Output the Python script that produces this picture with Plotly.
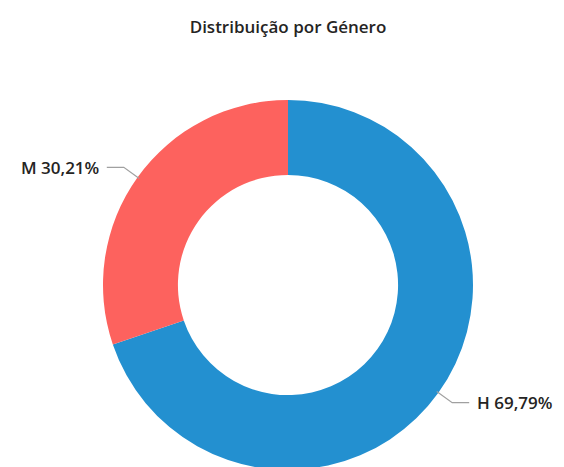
import math
import plotly.graph_objects as go

# Data
categories = ["H", "M"]
values = [69.79, 30.21]
colors = ["#2390D0", "#FD625E"]
title_text = "Distribuição por Género"

W, H = 564, 467
OFF = 8  # page body margin
dom_x = [0.1684, 0.8245]
dom_y = [0.0107, 0.803]
hole = 0.595

fig = go.Figure()
fig.add_trace(go.Pie(
    labels=categories, values=values, sort=False, direction="clockwise",
    rotation=0, hole=hole, textinfo="none", hoverinfo="label+percent",
    marker=dict(colors=colors, line=dict(width=0)),
    domain=dict(x=dom_x, y=dom_y), showlegend=False,
))

# geometry in figure pixels
cx = W * (dom_x[0] + dom_x[1]) / 2
cy = H - H * (dom_y[0] + dom_y[1]) / 2
r = min(W * (dom_x[1] - dom_x[0]), H * (dom_y[1] - dom_y[0])) / 2

def to_paper(px, py):
    return px / W, 1 - py / H

total = sum(values)
cum = 0
shapes = []
annotations = []
for cat, v in zip(categories, values):
    mid = (cum + v / 2) / total * 2 * math.pi
    cum += v
    ux, uy = math.sin(mid), -math.cos(mid)  # clockwise from top
    p0 = (cx + (r - 2) * ux, cy + (r - 2) * uy)
    p1 = (p0[0] + 19 * ux, p0[1] + 19 * uy)
    side = 1 if ux > 0 else -1
    p2 = (p1[0] + 17 * side, p1[1])
    pts = [to_paper(*p) for p in (p0, p1, p2)]
    path = "M {} {} L {} {} L {} {}".format(pts[0][0], pts[0][1], pts[1][0], pts[1][1], pts[2][0], pts[2][1])
    shapes.append(dict(type="path", path=path, xref="paper", yref="paper",
                       line=dict(color="#A0A0A0", width=1.2)))
    lx, ly = to_paper(p2[0] + 6 * side, p2[1])
    annotations.append(dict(
        x=lx, y=ly, xref="paper", yref="paper", showarrow=False,
        text="{} {}%".format(cat, f"{v:.2f}".replace(".", ",")),
        xanchor="left" if side > 0 else "right", yanchor="middle",
        font=dict(family="Open Sans", size=17, color="#252423", weight=600),
    ))

fig.update_layout(
    width=W, height=H,
    margin=dict(l=0, r=0, t=0, b=0),
    paper_bgcolor="white", plot_bgcolor="white",
    title=dict(text=title_text, x=(288 - OFF) / W, xanchor="center", y=1 - (27 - OFF) / H, yanchor="middle",
               font=dict(family="Open Sans", size=17, color="#252423", weight=600)),
    shapes=shapes, annotations=annotations,
)

fig.write_html("out.html")
